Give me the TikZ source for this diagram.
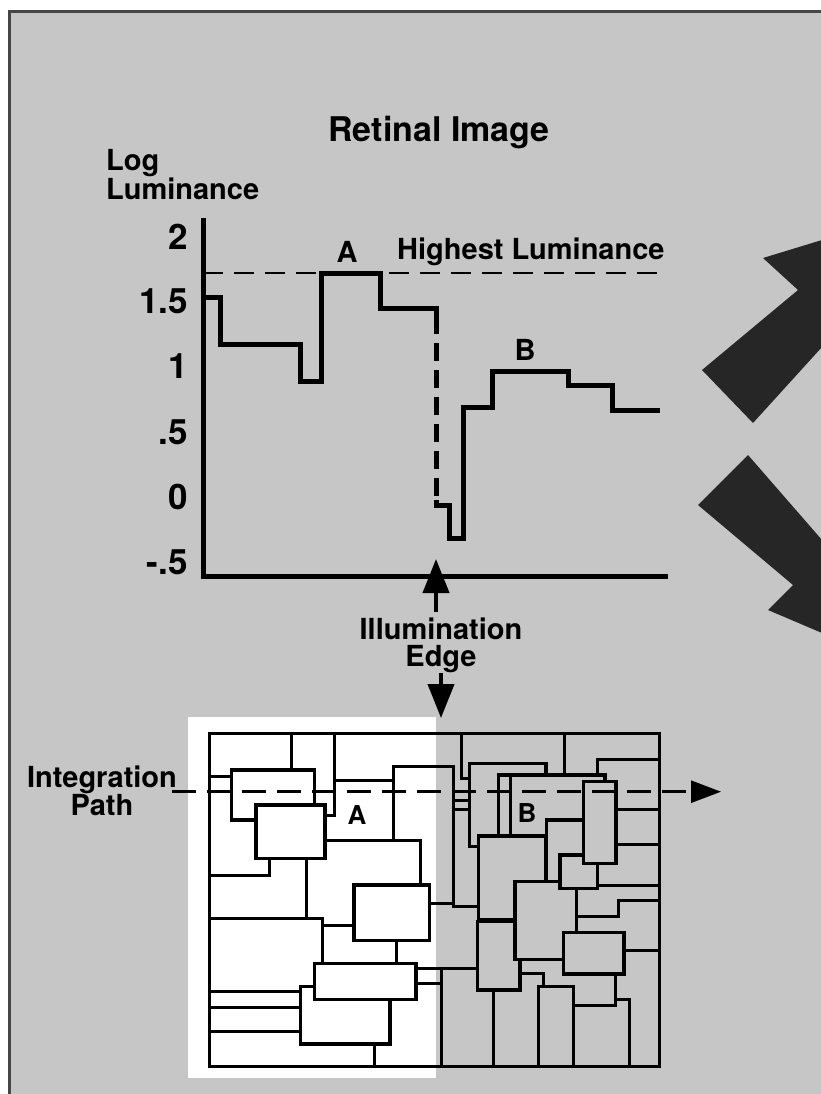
\documentclass[tikz,border=0pt]{standalone}
\usepackage{fontspec}
\setmainfont{TeX Gyre Heros}
\usetikzlibrary{arrows.meta}
\definecolor{bg}{RGB}{198,198,198}
\definecolor{dark}{RGB}{38,38,38}
\definecolor{framecol}{RGB}{70,70,70}
\begin{document}
\begin{tikzpicture}[x=1pt,y=-1pt,
  lbl/.style={font=\bfseries\fontsize{29}{27}\selectfont, inner sep=0pt},
  ttl/.style={font=\bfseries\fontsize{34}{38}\selectfont, inner sep=0pt},
  tick/.style={font=\bfseries\fontsize{35}{38}\selectfont, inner sep=0pt, anchor=east},
  mlab/.style={font=\bfseries\fontsize{26}{28}\selectfont, inner sep=0pt},
  axis/.style={line width=5pt, line cap=rect},
  curve/.style={line width=5pt, line join=miter},
  mline/.style={line width=3pt},
  wbox/.style={draw, line width=3.3pt, fill=white},
  gbox/.style={draw, line width=3.3pt, fill=bg},
  tip/.style={-{Triangle[length=34pt,width=26pt]}}]
\useasboundingbox (0,0) rectangle (820,1094);
% background
\fill[white] (0,0) rectangle (820,1094);
\fill[bg] (9,12) rectangle (830,1100);
\draw[line width=3pt, framecol] (9,1100) -- (9,12) -- (830,12);

% titles
\node[ttl] (title) at (439,133) {Retinal Image};
\node[lbl, anchor=north west, align=left] (loglum) at (106,149) {Log\\Luminance};

% ticks
\node[tick] (t2) at (188,237) {2};
\node[tick] (t15) at (188,301) {1.5};
\node[tick] (t1) at (188,366) {1};
\node[tick] (t05) at (188,432) {.5};
\node[tick] (t0) at (188,497) {0};
\node[tick] (tm05) at (188,562) {-.5};

% axes
\draw[axis] (203,220) -- (203,576) -- (665,576);

% highest luminance
\draw[line width=2.6pt, dash pattern=on 20pt off 11pt] (203,273) -- (665,273);
\node[lbl] (A) at (347,252) {A};
\node[lbl, anchor=west] (hl) at (397,252) {Highest Luminance};
\node[lbl] (B) at (525,350) {B};

% curve
\draw[curve] (205,297) -- (220,297) -- (220,344) -- (300,344) -- (300,381) -- (321,381) -- (321,273) -- (380,273) -- (380,308) -- (436,308) -- (436,316);
\draw[line width=5pt, dash pattern=on 18pt off 9pt] (436,316) -- (436,500);
\draw[curve] (436,500) -- (436,505) -- (449,505) -- (449,538) -- (463,538) -- (463,407) -- (492,407) -- (492,371) -- (568,371) -- (568,385) -- (612,385) -- (612,410) -- (660,410);

% chevrons
\fill[dark] (763,258) -- (822,240) -- (822,347) -- (753,423) -- (702,370) -- (798,290) -- cycle;
\fill[dark] (748,455) -- (822,540) -- (822,633) -- (768,610) -- (793,585) -- (698,505) -- cycle;

% illumination edge
\node[lbl, align=center] (ill) at (441,645) {Illumination\\Edge};
\coordinate (upS) at (436,612);
\coordinate (upE) at (436,559);
\coordinate (dnS) at (441,673);
\coordinate (dnE) at (441,718);
\draw[line width=4pt, tip] (upS) -- (upE);
\draw[line width=4pt, tip] (dnS) -- (dnE);

% Mondrian white half
\fill[white] (188,717) rectangle (436,1078);

% left lines
\draw[mline] (291.7,733) -- (291.7,770);
\draw[mline] (334,733) -- (334,815) -- (325,815);
\draw[mline] (209,776.7) -- (231.7,776.7);
\draw[mline] (334,780) -- (393.3,780);
\draw[mline] (393.3,840) -- (393.3,766.7) -- (453.3,766.7) -- (453.3,906.7) -- (478.3,906.7);
\draw[mline] (429.3,903.3) -- (453.3,903.3);
\draw[mline] (453.3,800) -- (469.3,800);
\draw[mline] (453.3,809.3) -- (469.3,809.3);
\draw[mline] (325,840) -- (420.7,840) -- (420.7,885);
\draw[mline] (269.3,858.3) -- (269.3,875) -- (209,875);
\draw[mline] (306,858.3) -- (306,918.3);
\draw[mline] (209,918.3) -- (322.7,918.3) -- (322.7,963.3);
\draw[mline] (322.7,925) -- (354,925);
\draw[mline] (396.7,940.7) -- (396.7,963.3);
\draw[mline] (416,968.3) -- (477.3,968.3);
\draw[mline] (416,983.3) -- (441,983.3);
\draw[mline] (441,968.3) -- (441,1066);
\draw[mline] (209,991.7) -- (300.7,991.7);
\draw[mline] (209,1007.3) -- (300.7,1007.3);
\draw[mline] (209,1031.7) -- (300.7,1031.7);
\draw[mline] (374,1044) -- (374,1066);

% right lines
\draw[mline] (461.7,733) -- (461.7,778.3) -- (469.3,778.3);
\draw[mline] (564,733) -- (564,775);
\draw[mline] (597.3,775) -- (597.3,759.3) -- (659,759.3);
\draw[mline] (616,809.3) -- (659,809.3);
\draw[mline] (616,844) -- (659,844);
\draw[mline] (597.3,885) -- (659,885);
\draw[mline] (659,900) -- (618.3,900) -- (618.3,916.7) -- (576.7,916.7);
\draw[mline] (624,950) -- (659,950);
\draw[mline] (520,973.3) -- (543.3,973.3) -- (543.3,986.7);
\draw[mline] (493.3,990) -- (493.3,1066);
\draw[mline] (538.3,1066) -- (538.3,986.7) -- (573.3,986.7) -- (573.3,1066);
\draw[mline] (573.3,1005) -- (615,1005) -- (615,974);
\draw[mline] (615,999.3) -- (629.3,999.3) -- (629.3,1066);

% left boxes
\draw[wbox] (231.7,770) rectangle (314.3,820);
\draw[wbox] (256,805) rectangle (325,858.3);
\draw[wbox] (354,885) rectangle (429.3,940.7);
\draw[wbox] (300.7,986.7) rectangle (390,1044);
\draw[wbox] (314.3,963.3) rectangle (416,999.3);

% right boxes
\draw[gbox] (469.3,763.3) rectangle (546,846.7);
\draw[gbox] (498.3,775) rectangle (605,836);
\draw[mline] (510.7,775) -- (510.7,836);
\draw[gbox] (546.7,820) rectangle (590,882);
\draw[gbox] (478.3,836) rectangle (546,920);
\draw[gbox] (477.3,921.7) rectangle (520,990);
\draw[gbox] (515,881.7) rectangle (576.7,959.3);
\draw[gbox] (560,855) rectangle (597.3,888.3);
\draw[gbox] (583.3,781.7) rectangle (616,863.3);
\draw[gbox] (563.3,932.7) rectangle (624,974);

% frame
\draw[mline] (209,733) rectangle (659,1066);

% labels in mondrian
\node[mlab] (mA) at (357,815) {A};
\node[mlab] (mB) at (527,813) {B};

% integration path
\node[lbl, align=center] (integ) at (102,791) {Integration\\Path};
\coordinate (ipS) at (172,791.7);
\coordinate (ipE) at (721,791.7);
\draw[line width=2.6pt, dash pattern=on 24pt off 11pt, -{Triangle[length=30pt,width=22pt]}] (ipS) -- (ipE);
\end{tikzpicture}
\end{document}
